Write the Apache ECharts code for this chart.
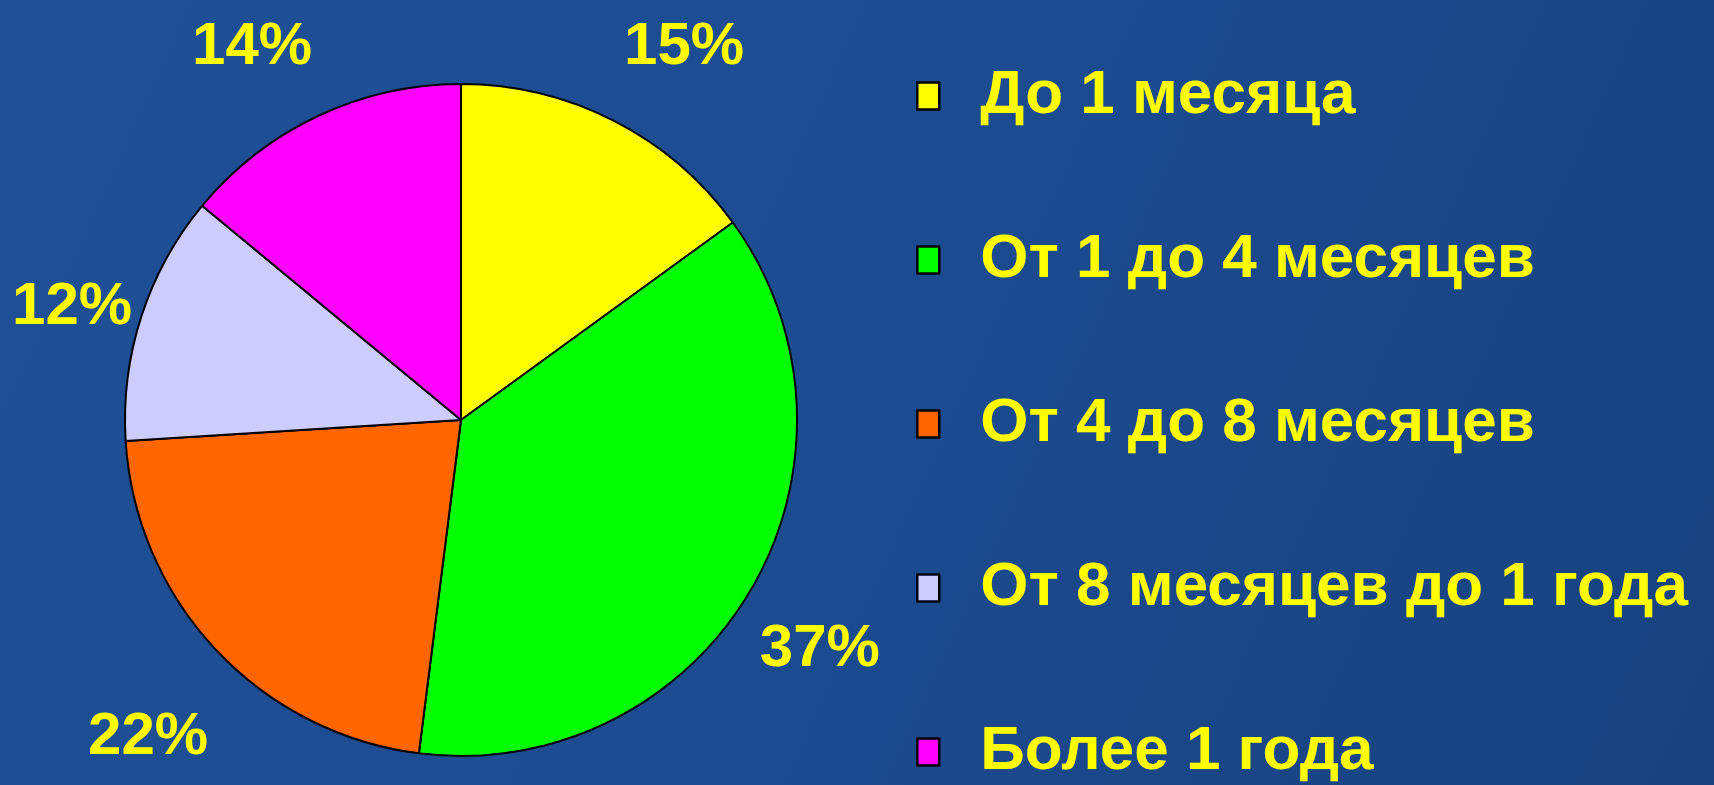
<!DOCTYPE html>
<html>
<head>
<meta charset="utf-8">
<title>Срок</title>
<script src="https://cdn.jsdelivr.net/npm/echarts@6/dist/echarts.min.js"></script>
<style>
  html, body { margin: 0; padding: 0; }
  #chart { width: 1714px; height: 785px; }
</style>
</head>
<body>
<div id="chart"></div>
<script>
const categories = ["До 1 месяца", "От 1 до 4 месяцев", "От 4 до 8 месяцев", "От 8 месяцев до 1 года", "Более 1 года"];
const values = [15, 37, 22, 12, 14];
const colors = ["#ffff00", "#00ff00", "#ff6600", "#ccccff", "#ff00ff"];

const chart = echarts.init(document.getElementById("chart"));

// small nudges so the % labels sit where they do on the slide
const labelOffsets = [[27, 12], [-13, 10], [2, 22], [22, 21], [-25, 18]];

const font = "'Liberation Sans', Arial, sans-serif";

const option = {
  backgroundColor: {
    type: "linear", x: 0, y: 0, x2: 1, y2: 1,
    colorStops: [
      { offset: 0, color: "#1f5096" },
      { offset: 0.5, color: "#1c4b90" },
      { offset: 1, color: "#18427f" },
    ],
  },
  animation: false,
  legend: {
    orient: "vertical",
    left: 916,
    top: 65,
    height: 740,
    padding: 0,
    itemWidth: 22,
    itemHeight: 27,
    itemGap: 102,
    icon: "rect",
    selectedMode: false,
    itemStyle: { borderColor: "#000", borderWidth: 2.5 },
    textStyle: {
      color: "#ffff00",
      fontFamily: font,
      fontWeight: "bold",
      fontSize: 62,
      padding: [0, 0, 0, 36],
    },
    data: categories,
  },
  series: [
    {
      // the pie itself
      type: "pie",
      center: [461, 420],
      radius: 336,
      startAngle: 90,
      clockwise: true,
      silent: true,
      itemStyle: { borderColor: "#000", borderWidth: 2 },
      label: { show: false },
      labelLine: { show: false },
      data: categories.map((name, i) => ({
        name: name,
        value: values[i],
        itemStyle: { color: colors[i] },
      })),
    },
    {
      // invisible ring just to place the % labels centred around the pie
      type: "pie",
      center: [461, 420],
      radius: [0, 858],
      startAngle: 90,
      clockwise: true,
      silent: true,
      z: 1,
      itemStyle: { color: "transparent", borderWidth: 0 },
      label: {
        show: true,
        position: "inside",
        formatter: "{c}%",
        color: "#ffff00",
        fontFamily: font,
        fontWeight: "bold",
        fontSize: 60,
      },
      labelLine: { show: false },
      data: categories.map((name, i) => ({
        name: name,
        value: values[i],
        label: { offset: labelOffsets[i] },
      })),
    },
  ],
};

chart.setOption(option);
</script>
</body>
</html>
